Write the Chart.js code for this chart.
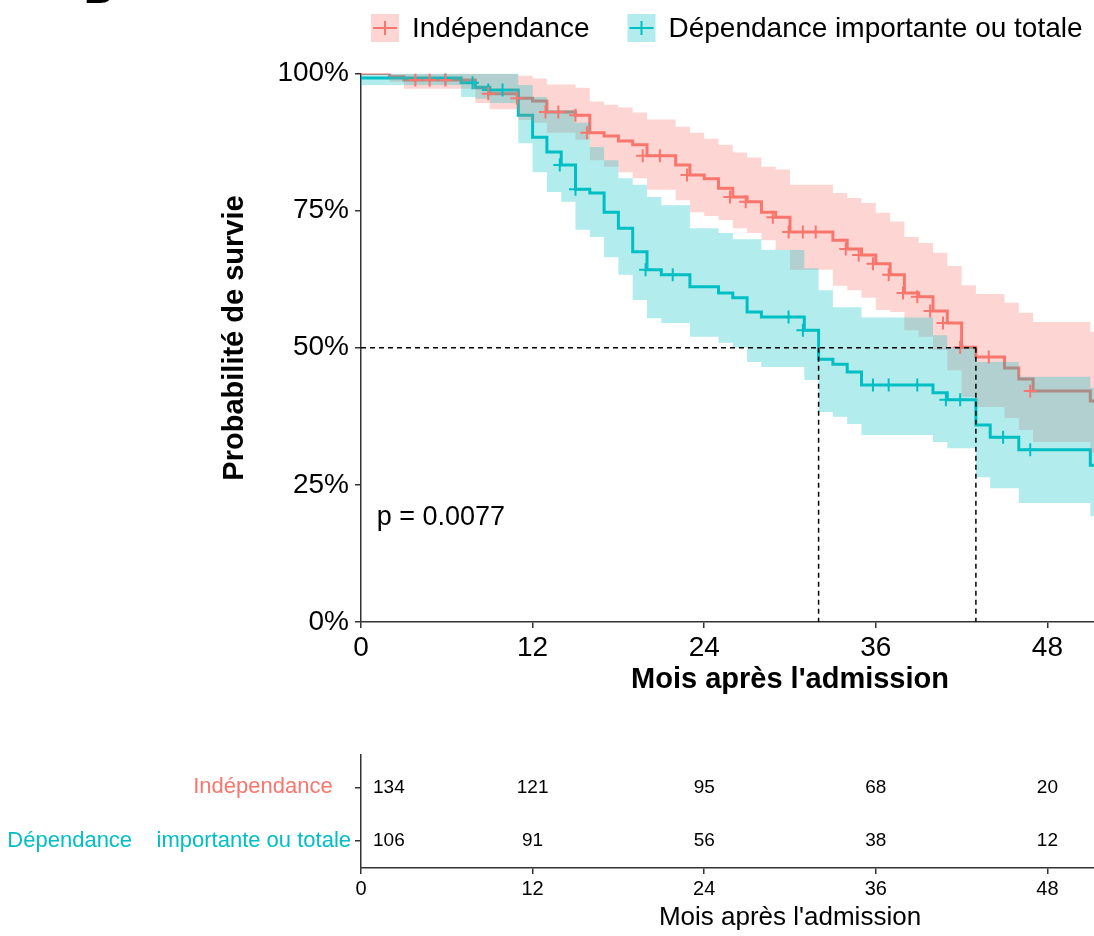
<!DOCTYPE html>
<html lang="fr">
<head>
<meta charset="utf-8">
<title>Survie selon la dépendance</title>
<script src="https://cdn.jsdelivr.net/npm/chart.js@4.4.1/dist/chart.umd.min.js"></script>
<style>
  html, body { margin: 0; padding: 0; background: #fff; overflow: hidden; }
  #page { position: relative; width: 1240px; height: 936px; }
  canvas { position: absolute; left: 0; }
  #courbes { top: 0; }
  #risque { top: 700px; }
</style>
</head>
<body>
<div id="page">
  <canvas id="courbes" width="1240" height="700"></canvas>
  <canvas id="risque" width="1240" height="236"></canvas>
</div>
<script>
// groupes
const groupes = ['Indépendance', 'Dépendance importante ou totale'];
const couleurs = ['#F8766D', '#00BFC4'];
const remplissages = ['rgba(248,118,109,0.3)', 'rgba(0,191,196,0.3)'];

// Indépendance : temps (mois), survie (%), IC 95 %
const tempsIndep  = [0, 2, 3, 8, 9, 11, 12, 13, 15, 16, 17, 18, 19, 20, 22, 23, 24, 25, 26, 27, 28, 29, 30, 33, 34, 35, 36, 37, 38, 39, 40, 41, 42, 43, 45, 46, 47, 51, 53];
const survieIndep = [100, 99.4, 98.8, 97.4, 96.3, 95.5, 95.0, 93.0, 92.4, 89.2, 88.6, 87.7, 87.0, 85.0, 83.3, 81.5, 80.8, 79.1, 77.5, 76.6, 74.7, 73.8, 71.1, 69.6, 68.0, 66.9, 65.3, 63.3, 60.0, 59.3, 56.7, 54.5, 50.1, 48.3, 46.3, 44.3, 42.1, 40.3, 40.3];
const hautIndep   = [100, 100, 100, 100, 100, 99.6, 99.1, 98.0, 97.4, 94.9, 94.3, 93.8, 92.9, 91.6, 90.3, 89.2, 88.1, 87.0, 85.6, 84.7, 83.0, 82.5, 79.7, 78.2, 77.3, 76.4, 74.6, 73.0, 70.2, 69.1, 67.3, 64.9, 61.4, 59.8, 58.2, 56.4, 54.7, 52.9, 52.9];
const basIndep    = [100, 98.5, 97.2, 94.6, 93.5, 91.5, 91.0, 89.2, 87.9, 84.2, 83.0, 82.0, 80.9, 78.8, 76.9, 74.7, 74.0, 73.3, 71.8, 70.9, 69.6, 67.8, 64.2, 61.3, 60.5, 59.1, 56.9, 56.5, 53.2, 52.0, 49.6, 45.9, 41.0, 39.2, 37.2, 35.0, 32.8, 30.8, 30.8];
const censIndepT  = [3.8, 4.8, 5.9, 8.9, 10.9, 12.9, 13.8, 15.0, 15.8, 19.7, 20.9, 22.8, 25.8, 26.9, 28.8, 29.9, 30.9, 31.8, 33.9, 34.8, 35.8, 36.9, 37.9, 38.9, 39.8, 40.7, 41.9, 43.9, 46.8];
const censIndepS  = [98.8, 98.8, 98.8, 96.3, 95.5, 93.0, 93.0, 92.4, 89.2, 85.0, 85.0, 81.5, 77.5, 76.6, 73.8, 71.1, 71.1, 71.1, 68.0, 66.9, 65.3, 63.3, 60.0, 59.3, 56.7, 54.5, 50.1, 48.3, 42.1];

// Dépendance importante ou totale
const tempsDep  = [0, 7, 8, 9, 11, 12, 13, 14, 15, 16, 17, 18, 19, 20, 21, 23, 25, 26, 27, 28, 31, 32, 33, 34, 35, 40, 41, 43, 44, 46, 51, 53];
const survieDep = [99.2, 98.3, 97.5, 97.0, 92.4, 88.4, 85.7, 83.3, 78.9, 78.2, 74.7, 71.8, 67.5, 64.2, 63.3, 61.1, 60.0, 59.1, 56.5, 55.6, 53.2, 47.9, 47.0, 45.6, 43.2, 41.8, 40.5, 35.9, 33.7, 31.4, 28.6, 28.6];
const hautDep   = [100, 100, 100, 100, 97.9, 95.7, 93.3, 93.3, 91.0, 86.6, 84.2, 80.9, 79.7, 77.5, 76.0, 71.8, 70.9, 69.8, 69.8, 67.8, 64.5, 60.5, 57.4, 57.4, 55.5, 52.3, 50.1, 47.4, 47.4, 44.7, 42.7, 42.7];
const basDep    = [97.9, 95.7, 95.4, 94.6, 87.3, 82.0, 78.4, 76.6, 71.5, 70.2, 66.5, 63.3, 58.7, 55.4, 54.5, 52.0, 50.9, 50.0, 47.4, 46.5, 44.1, 38.3, 37.4, 36.1, 34.1, 32.8, 31.7, 26.4, 24.4, 21.7, 19.3, 19.3];
const censDepT  = [5.9, 7.8, 8.9, 9.9, 13.9, 15.0, 19.9, 21.8, 29.9, 30.9, 35.8, 36.9, 38.9, 40.9, 41.9, 44.9, 46.8];
const censDepS  = [99.2, 98.3, 97.0, 97.0, 83.3, 78.9, 64.2, 63.3, 55.6, 53.2, 43.2, 43.2, 43.2, 40.5, 40.5, 33.7, 31.4];

const medianes = [32, 43];
const pValeur = 'p = 0.0077';
const pPosition = [1.1, 19.1];

// table des effectifs à risque
const moisRisque = [0, 12, 24, 36, 48];
const risqueIndep = [134, 121, 95, 68, 20];
const risqueDep = [106, 91, 56, 38, 12];
const etiquettesRisque = ['Indépendance   ', 'Dépendance    importante ou totale'];

const police = "'Liberation Sans', Arial, sans-serif";
Chart.defaults.font.family = police;
Chart.defaults.color = '#000';

const pts = (xs, ys) => xs.map((x, i) => ({x: x, y: ys[i]}));

function courbe(xs, ys, c, ordre) {
  return { data: pts(xs, ys), stepped: true, borderColor: c, borderWidth: 3,
           pointRadius: 0, fill: false, order: ordre };
}
function bande(xs, ys, fond, remplir, ordre) {
  return { data: pts(xs, ys), stepped: true, borderColor: 'transparent', borderWidth: 0,
           pointRadius: 0, backgroundColor: fond, fill: remplir, order: ordre };
}
function censures(xs, ys, c) {
  return { data: pts(xs, ys), showLine: false, pointStyle: 'cross', pointRadius: 6.5,
           pointHoverRadius: 6.5, pointBorderWidth: 2, pointBorderColor: c,
           borderColor: c, order: 2 };
}
function tirets(d) {
  return { data: d, borderColor: '#000', borderWidth: 1.5, borderDash: [5, 4],
           pointRadius: 0, fill: false, order: 1 };
}

const grille = { drawOnChartArea: false, drawTicks: true, tickLength: 6, color: '#333', lineWidth: 1.5 };
const bord = { display: true, color: '#333', width: 1.5 };

const datasets = [
  courbe(tempsIndep, survieIndep, couleurs[0], 10),
  courbe(tempsDep, survieDep, couleurs[1], 9),
  bande(tempsIndep, hautIndep, remplissages[0], '+1', 8),
  bande(tempsIndep, basIndep, remplissages[0], false, 8),
  bande(tempsDep, hautDep, remplissages[1], '+1', 7),
  bande(tempsDep, basDep, remplissages[1], false, 7),
  censures(censIndepT, censIndepS, couleurs[0]),
  censures(censDepT, censDepS, couleurs[1]),
  tirets([{x: 0, y: 50}, {x: Math.max(...medianes), y: 50}])
].concat(medianes.map(m => tirets([{x: m, y: 50}, {x: m, y: 0}])));

const decor = {
  id: 'decor',
  afterDraw(chart) {
    const ctx = chart.ctx;
    const sx = chart.scales.x, sy = chart.scales.y;
    ctx.save();
    // lettre du panneau (coupée en haut)
    ctx.fillStyle = '#000';
    ctx.font = 'bold 40px ' + police;
    ctx.textBaseline = 'alphabetic';
    ctx.textAlign = 'left';
    ctx.fillText('B', 84, 3);
    // légende
    let x = 371;
    const yc = 28;
    ctx.font = '28px ' + police;
    ctx.textBaseline = 'middle';
    groupes.forEach((g, i) => {
      ctx.fillStyle = remplissages[i];
      ctx.fillRect(x, 14, 28, 28);
      ctx.strokeStyle = couleurs[i];
      ctx.lineWidth = 2;
      ctx.beginPath();
      ctx.moveTo(x + 2, yc); ctx.lineTo(x + 26, yc);
      ctx.moveTo(x + 14, yc - 7); ctx.lineTo(x + 14, yc + 7);
      ctx.stroke();
      ctx.fillStyle = '#000';
      ctx.fillText(g, x + 41, yc + 1);
      x += 41 + ctx.measureText(g).width + 38;
    });
    // p-valeur
    ctx.font = '27px ' + police;
    ctx.fillText(pValeur, sx.getPixelForValue(pPosition[0]), sy.getPixelForValue(pPosition[1]));
    // titre de l'axe y
    ctx.translate(235, 338);
    ctx.rotate(-Math.PI / 2);
    ctx.textAlign = 'center';
    ctx.font = 'bold 29px ' + police;
    ctx.fillText('Probabilité de survie', 0, 0);
    ctx.restore();
  }
};

new Chart(document.getElementById('courbes'), {
  type: 'line',
  data: { datasets: datasets },
  options: {
    responsive: false,
    animation: false,
    layout: { padding: { top: 73.5, right: 21, left: 0, bottom: 0 } },
    plugins: { legend: { display: false }, tooltip: { enabled: false } },
    scales: {
      x: {
        type: 'linear', min: 0, max: 60,
        ticks: { stepSize: 12, font: { size: 28 }, color: '#000', padding: 3 },
        grid: grille, border: bord,
        title: { display: true, text: "Mois après l'admission", font: { size: 29, weight: 'bold' },
                 color: '#000', padding: { top: 0, bottom: 2.6 } },
        afterFit: s => { s.height = 78; }
      },
      y: {
        min: 0, max: 100,
        ticks: { stepSize: 25, callback: v => v + '%', font: { size: 28 }, color: '#000', padding: 6 },
        grid: grille, border: bord,
        afterFit: s => { s.width = 361; }
      }
    }
  },
  plugins: [decor]
});

// table des effectifs
const effectifs = {
  id: 'effectifs',
  afterDatasetsDraw(chart) {
    const ctx = chart.ctx;
    ctx.save();
    ctx.fillStyle = '#000';
    ctx.font = '19px ' + police;
    ctx.textBaseline = 'middle';
    [risqueIndep, risqueDep].forEach((vals, i) => {
      chart.getDatasetMeta(i).data.forEach((p, j) => {
        ctx.textAlign = j === 0 ? 'left' : 'center';
        ctx.fillText(String(vals[j]), j === 0 ? p.x + 12 : p.x, p.y);
      });
    });
    ctx.restore();
  }
};

new Chart(document.getElementById('risque'), {
  type: 'line',
  data: {
    datasets: [
      { data: moisRisque.map(m => ({x: m, y: 0})), showLine: false, pointRadius: 0 },
      { data: moisRisque.map(m => ({x: m, y: 1})), showLine: false, pointRadius: 0 }
    ]
  },
  options: {
    responsive: false,
    animation: false,
    layout: { padding: { top: 55, right: 21, left: 0, bottom: 0 } },
    plugins: { legend: { display: false }, tooltip: { enabled: false } },
    scales: {
      x: {
        type: 'linear', min: 0, max: 60,
        ticks: { stepSize: 12, font: { size: 20 }, color: '#000', padding: 3 },
        grid: grille, border: bord,
        title: { display: true, text: "Mois après l'admission", font: { size: 26 },
                 color: '#000', padding: { top: 0, bottom: 2.4 } },
        afterFit: s => { s.height = 68; }
      },
      y: {
        type: 'linear', reverse: true, min: -0.6, max: 1.5,
        afterBuildTicks: s => { s.ticks = [{value: 0}, {value: 1}]; },
        ticks: { callback: v => etiquettesRisque[v], color: c => couleurs[c.index],
                 font: { size: 22 }, padding: 4 },
        grid: grille, border: bord,
        afterFit: s => { s.width = 361; }
      }
    }
  },
  plugins: [effectifs]
});
</script>
</body>
</html>
